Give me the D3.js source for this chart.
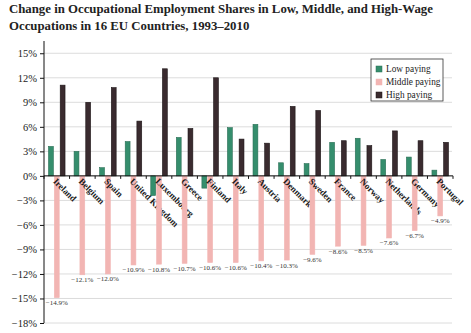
<!DOCTYPE html>
<html>
<head>
<meta charset="utf-8">
<script src="https://cdn.jsdelivr.net/npm/d3@7"></script>
<style>
body{margin:0;background:#fff;}
text{font-family:"Liberation Serif","DejaVu Serif",serif;}
</style>
</head>
<body>
<div id="chart"></div>
<script>
var countries = ["Ireland","Belgium","Spain","United Kingdom","Luxembourg","Greece","Finland","Italy",
    "Austria","Denmark","Sweden","France","Norway","Netherlands","Germany","Portugal"];
var lowPaying = [3.6,3.0,1.0,4.2,-2.4,4.7,-1.5,5.9,6.3,1.6,1.5,4.1,4.6,2.0,2.3,0.7];
var middlePaying = [-14.9,-12.1,-12.0,-10.9,-10.8,-10.7,-10.6,-10.6,-10.4,-10.3,-9.6,-8.6,-8.5,-7.6,-6.7,-4.9];
var highPaying = [11.1,9.0,10.8,6.7,13.1,5.8,12.0,4.5,4.0,8.5,8.0,4.3,3.7,5.5,4.3,4.1];
var yTicks = [-18,-15,-12,-9,-6,-3,0,3,6,9,12,15];
var seriesNames = ["Low paying","Middle paying","High paying"];

var margin={left:44,right:18,top:41,bottom:10},
    width=471,
    height=333;

var color = d3.scaleOrdinal().domain(seriesNames).range(["#358e6d","#f2b5b3","#3a2b2f"]);
var stroke = d3.scaleOrdinal().domain(seriesNames).range(["#2a6e55","#f2b5b3","#1c1416"]);

var svg = d3.select("#chart").append("svg")
    .attr("width", width)
    .attr("height", height);

// title
svg.append("text").attr("x",9).attr("y",13)
    .attr("font-size",12.8).attr("font-weight","bold").attr("fill","#222")
    .text("Change in Occupational Employment Shares in Low, Middle, and High-Wage");
svg.append("text").attr("x",9).attr("y",29.5)
    .attr("font-size",12.8).attr("font-weight","bold").attr("fill","#222")
    .text("Occupations in 16 EU Countries, 1993\u20132010");

var y = d3.scaleLinear().domain([-18,16.5]).range([height-margin.bottom, margin.top]);
var x0 = d3.scaleBand().domain(countries).range([margin.left, width-margin.right]).paddingInner(0.315).paddingOuter(0.1575);
var x1 = d3.scaleBand().domain(seriesNames).range([0, x0.bandwidth()]);

// gridlines
svg.append("g").selectAll("line").data(yTicks).enter().append("line")
    .attr("x1", margin.left).attr("x2", width-margin.right-1)
    .attr("y1", function(d){return y(d);}).attr("y2", function(d){return y(d);})
    .attr("stroke","#dcdcdc").attr("stroke-width",1);

var rows = countries.map(function(c,i){
    return {country:c, values:[
        {key:"Low paying", value:lowPaying[i]},
        {key:"Middle paying", value:middlePaying[i]},
        {key:"High paying", value:highPaying[i]}
    ]};
});

var group = svg.selectAll(".grp").data(rows).enter().append("g")
    .attr("class","grp")
    .attr("transform", function(d){return "translate("+x0(d.country)+",0)";});

group.selectAll("rect").data(function(d){return d.values;}).enter().append("rect")
    .attr("x", function(d){return x1(d.key)+0.5;})
    .attr("width", x1.bandwidth()-1)
    .attr("y", function(d){return y(Math.max(0,d.value));})
    .attr("height", function(d){return Math.abs(y(d.value)-y(0));})
    .attr("fill", function(d){return color(d.key);})
    .attr("stroke", function(d){return stroke(d.key);})
    .attr("stroke-width",0.6);

// middle value labels
var fmt = function(v){return d3.format(".1f")(v).replace("-","\u2212")+"%";};
group.append("text")
    .attr("x", x1("Middle paying")+x1.bandwidth()/2)
    .attr("y", function(d){return y(d.values[1].value)+7.5;})
    .attr("text-anchor","middle")
    .attr("font-size",7).attr("fill","#333")
    .text(function(d){return fmt(d.values[1].value);});

// x axis line + ticks at group boundaries
svg.append("line").attr("x1",margin.left).attr("x2",width-margin.right)
    .attr("y1",y(0)).attr("y2",y(0)).attr("stroke","#111").attr("stroke-width",1);
var bounds = d3.range(countries.length+1).map(function(i){return margin.left+i*x0.step();});
svg.append("g").selectAll("line").data(bounds).enter().append("line")
    .attr("x1",function(d){return d;}).attr("x2",function(d){return d;})
    .attr("y1",y(0)).attr("y2",y(0)+3).attr("stroke","#111");

// country labels
group.append("text")
    .attr("transform", function(d){return "translate("+(x1("Middle paying")+1)+","+(y(0)+4)+") rotate(45)";})
    .attr("font-size",9).attr("font-weight","bold").attr("fill","#1a1a1a")
    .attr("dy","0.35em")
    .text(function(d){return d.country;});

// y axis
var yAxis = d3.axisLeft(y).tickValues(yTicks).tickSize(4).tickPadding(3)
    .tickFormat(function(d){return (d<0?"\u2212"+(-d):d)+"%";});
var ya = svg.append("g").attr("transform","translate("+margin.left+",0)").call(yAxis);
ya.select(".domain").attr("d","M0,"+y(16.5)+"V"+y(-18)).attr("stroke","#111");
ya.selectAll("text").attr("font-size",10.5).attr("fill","#222")
    .attr("font-family","'Liberation Serif','DejaVu Serif',serif");
ya.selectAll(".tick line").attr("stroke","#111");

// legend
var lg = svg.append("g").attr("transform","translate(371,59)");
lg.append("rect").attr("width",72).attr("height",42).attr("fill","#fff").attr("stroke","#333").attr("stroke-width",0.8);
var li = lg.selectAll(".li").data(seriesNames).enter().append("g")
    .attr("transform",function(d,i){return "translate(5,"+(7+i*13)+")";});
li.append("rect").attr("width",6).attr("height",6)
    .attr("fill",function(d){return color(d);})
    .attr("stroke",function(d){return stroke(d);}).attr("stroke-width",0.5);
li.append("text").attr("x",10).attr("y",3).attr("dy","0.35em")
    .attr("font-size",9.3).attr("fill","#222")
    .text(function(d){return d;});
</script>
</body>
</html>
